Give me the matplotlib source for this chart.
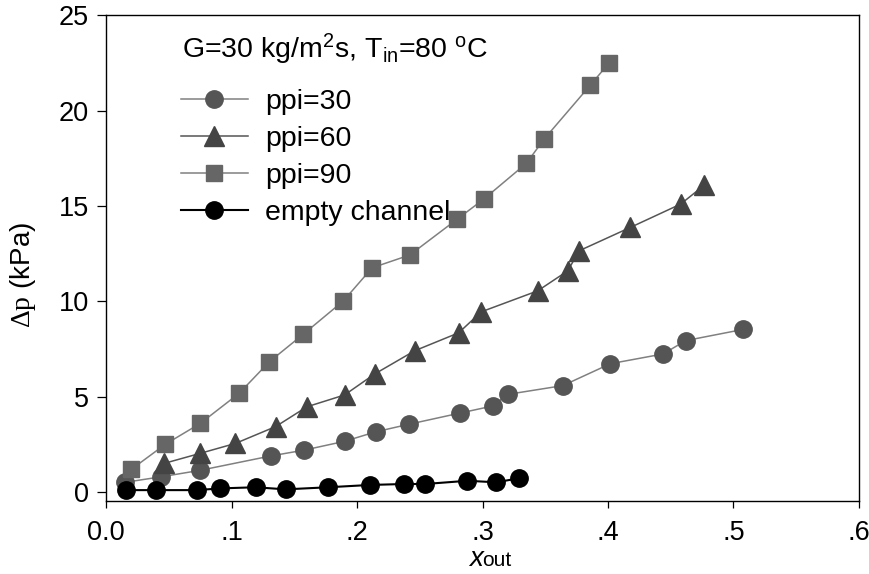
import matplotlib
matplotlib.use("Agg")
import matplotlib.pyplot as plt
from matplotlib.ticker import FixedLocator, FixedFormatter

plt.rcParams['font.family'] = ['Liberation Sans', 'DejaVu Sans']
plt.rcParams['mathtext.fontset'] = 'custom'
plt.rcParams['mathtext.rm'] = 'Liberation Sans'
plt.rcParams['mathtext.it'] = 'Liberation Sans:italic'
plt.rcParams['mathtext.sf'] = 'Liberation Serif'

# ---- data ----
x_ppi30 = [0.015, 0.044, 0.075, 0.131, 0.158, 0.190, 0.215, 0.241, 0.282, 0.308, 0.320, 0.364, 0.402, 0.444, 0.462, 0.508]
y_ppi30 = [0.51, 0.80, 1.14, 1.89, 2.20, 2.66, 3.16, 3.55, 4.14, 4.51, 5.12, 5.58, 6.73, 7.24, 7.94, 8.53]

x_ppi60 = [0.046, 0.075, 0.103, 0.135, 0.160, 0.190, 0.214, 0.246, 0.281, 0.299, 0.344, 0.368, 0.377, 0.418, 0.458, 0.477]
y_ppi60 = [1.50, 2.03, 2.55, 3.43, 4.47, 5.09, 6.19, 7.41, 8.35, 9.45, 10.55, 11.6, 12.65, 13.88, 15.10, 16.1]

x_ppi90 = [0.020, 0.047, 0.075, 0.106, 0.130, 0.157, 0.189, 0.212, 0.242, 0.280, 0.301, 0.335, 0.349, 0.386, 0.401]
y_ppi90 = [1.19, 2.50, 3.60, 5.18, 6.83, 8.27, 10.02, 11.76, 12.43, 14.32, 15.36, 17.24, 18.50, 21.34, 22.51]

x_empty = [0.016, 0.040, 0.072, 0.091, 0.119, 0.143, 0.177, 0.210, 0.237, 0.254, 0.288, 0.311, 0.329]
y_empty = [0.10, 0.10, 0.10, 0.19, 0.25, 0.14, 0.25, 0.37, 0.42, 0.42, 0.59, 0.51, 0.72]

x_ticks = [0.0, 0.1, 0.2, 0.3, 0.4, 0.5, 0.6]
x_ticklabels = ['0.0', '.1', '.2', '.3', '.4', '.5', '.6']
y_ticks = [0, 5, 10, 15, 20, 25]
y_ticklabels = ['0', '5', '10', '15', '20', '25']

legend_title = r'G=30 kg/m$^\mathregular{2}$s, T$_\mathregular{in}$=80 $^\mathregular{o}$C'
labels = ['ppi=30', 'ppi=60', 'ppi=90', 'empty channel']

# ---- figure ----
fig = plt.figure(figsize=(8.69, 5.74), dpi=100)
ax = fig.add_axes([0.1223, 0.1272, 0.8659, 0.8461])

ax.plot(x_ppi30, y_ppi30, color='#808080', lw=1.1, marker='o', ms=12.5,
        mfc='#555555', mec='#555555', label=labels[0])
ax.plot(x_ppi60, y_ppi60, color='#555555', lw=1.1, marker='^', ms=14,
        mfc='#444444', mec='#444444', label=labels[1])
ax.plot(x_ppi90, y_ppi90, color='#808080', lw=1.1, marker='s', ms=11.5,
        mfc='#666666', mec='#666666', label=labels[2])
ax.plot(x_empty, y_empty, color='black', lw=1.5, marker='o', ms=12.5,
        mfc='black', mec='black', label=labels[3])

ax.set_xlim(0, 0.6)
ax.set_ylim(-0.47, 25)
ax.xaxis.set_major_locator(FixedLocator(x_ticks))
ax.xaxis.set_major_formatter(FixedFormatter(x_ticklabels))
ax.yaxis.set_major_locator(FixedLocator(y_ticks))
ax.yaxis.set_major_formatter(FixedFormatter(y_ticklabels))
ax.tick_params(axis='y', direction='out', length=6.5, width=0.9, labelsize=19.5, pad=6)
ax.tick_params(axis='x', direction='out', length=5, width=0.9, labelsize=19.5, pad=9)
for s in ax.spines.values():
    s.set_linewidth(1.0)

ax.set_ylabel(r'$\mathsf{\Delta p}$ (kPa)', fontsize=20)
ax.yaxis.set_label_coords(-0.091, 0.466)

ax.text(0.5, -0.134, 'x', transform=ax.transAxes, fontsize=20, style='italic',
        ha='right', va='baseline')
ax.text(0.5, -0.134, 'out', transform=ax.transAxes, fontsize=15,
        ha='left', va='baseline')

ax.text(0.1009, 0.911, legend_title, transform=ax.transAxes, fontsize=20.5,
        ha='left', va='baseline')

leg = ax.legend(loc='upper left', bbox_to_anchor=(0.0993, 0.848),
                frameon=False, fontsize=20.5,
                handlelength=2.35, handletextpad=0.6, labelspacing=0.39,
                borderaxespad=0, borderpad=0)

fig.savefig('out.png', dpi=100)
